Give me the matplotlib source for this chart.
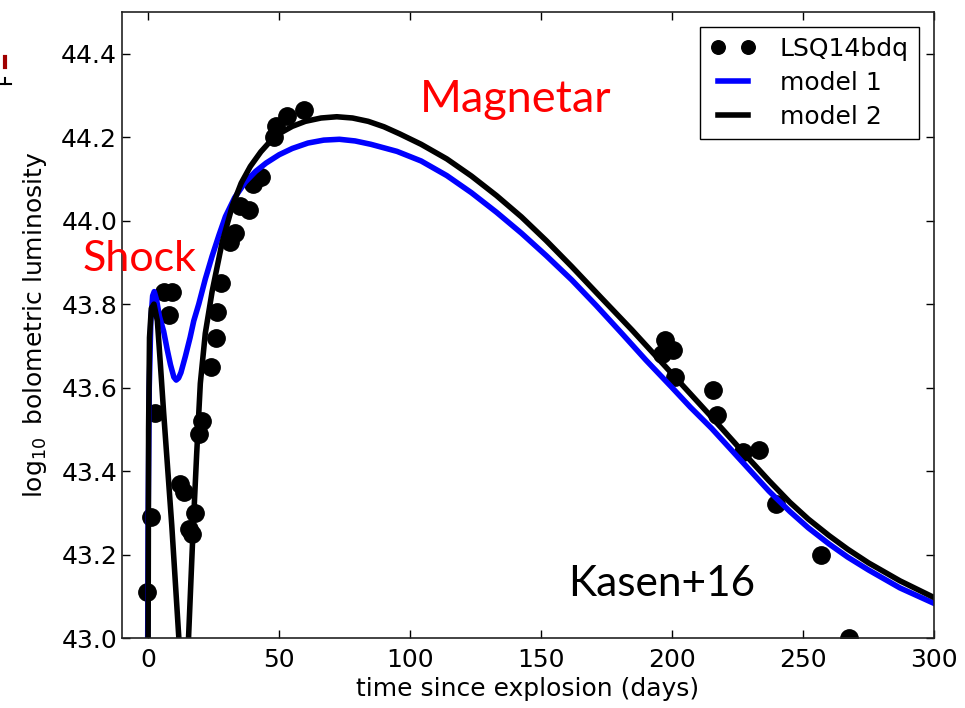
import numpy as np
import matplotlib
matplotlib.use("Agg")
import matplotlib.pyplot as plt
from matplotlib.lines import Line2D

# observed bolometric light curve of LSQ14bdq (days, log10 L)
t_obs = [-0.5, 1.0, 2.7, 5.9, 9.1, 7.8, 12.3, 13.5, 15.4, 16.9, 18.0, 19.3,
         20.6, 23.8, 25.7, 26.3, 27.8, 31.4, 33.3, 35.2, 38.4, 40.2, 42.9,
         48.0, 48.7, 53.1, 59.5, 196.0, 197.3, 200.5, 201.0, 215.5, 217.0,
         227.0, 233.0, 239.7, 257.0, 267.6]
L_obs = [43.11, 43.29, 43.54, 43.83, 43.83, 43.775, 43.37, 43.35, 43.26,
         43.25, 43.30, 43.49, 43.52, 43.65, 43.72, 43.78, 43.85, 43.95, 43.97,
         44.035, 44.025, 44.087, 44.104, 44.20, 44.227, 44.25, 44.265, 43.68,
         43.715, 43.69, 43.625, 43.595, 43.535, 43.446, 43.45, 43.32, 43.20,
         43.0]

# model 1
t_m1 = [-0.3, 0.0, 0.4, 1.0, 1.7, 2.3, 3.2, 4.3, 5.9, 7.3, 8.5, 9.8, 10.7,
        11.6, 12.5, 14.2, 16.0, 17.4, 19.3, 21.8, 24.4, 27.0, 29.5, 33.0,
        37.0, 41.0, 45.0, 50.0, 55.0, 61.0, 67.0, 73.0, 79.0, 85.0, 95.0,
        104.2, 114.0, 123.4, 133.0, 142.5, 152.0, 161.7, 171.0, 180.8, 190.0,
        200.0, 207.0, 215.0, 222.0, 230.0, 237.0, 245.0, 252.0, 260.0, 267.0,
        275.0, 287.0, 300.0]
L_m1 = [42.8, 43.3, 43.6, 43.76, 43.82, 43.83, 43.81, 43.77, 43.735, 43.69,
        43.655, 43.625, 43.618, 43.623, 43.636, 43.675, 43.72, 43.76, 43.80,
        43.86, 43.915, 43.965, 44.01, 44.055, 44.092, 44.118, 44.138, 44.158,
        44.173, 44.186, 44.193, 44.195, 44.191, 44.183, 44.166, 44.143, 44.108,
        44.067, 44.02, 43.970, 43.916, 43.858, 43.797, 43.730, 43.666, 43.60,
        43.553, 43.503, 43.455, 43.400, 43.352, 43.303, 43.264, 43.225,
        43.194, 43.163, 43.12, 43.083]

# model 2
t_m2 = [-0.2, 0.15, 0.5, 1.2, 2.2, 3.5, 4.5, 5.9, 9.0, 11.7, 13.5, 15.4,
        17.0, 18.5, 19.9, 21.8, 24.4, 28.2, 32.1, 35.5, 39.0, 43.0, 47.0,
        51.0, 55.0, 60.0, 66.0, 72.0, 78.0, 84.0, 90.0, 96.0, 104.2, 114.0,
        123.4, 133.0, 142.5, 152.0, 161.7, 173.0, 184.7, 192.0, 200.0, 207.0,
        215.0, 222.0, 230.0, 237.0, 245.0, 252.0, 260.0, 267.0, 275.0, 287.0,
        300.0]
L_m2 = [42.5, 43.5, 43.72, 43.79, 43.80, 43.76, 43.67, 43.54, 43.27, 43.0,
        42.75, 43.0, 43.24, 43.44, 43.61, 43.73, 43.83, 43.947, 44.035,
        44.09, 44.13, 44.165, 44.193, 44.212, 44.226, 44.238, 44.246, 44.249,
        44.246, 44.238, 44.225, 44.208, 44.183, 44.148, 44.107, 44.06, 44.009,
        43.952, 43.89, 43.815, 43.738, 43.688, 43.633, 43.585, 43.530, 43.481,
        43.425, 43.377, 43.325, 43.285, 43.245, 43.213, 43.18, 43.137, 43.097]

xticks = [0, 50, 100, 150, 200, 250, 300]
yticks = [43.0, 43.2, 43.4, 43.6, 43.8, 44.0, 44.2, 44.4]

W, H = 965, 708
fig = plt.figure(figsize=(W / 100, H / 100), dpi=100)
ax = fig.add_axes([122 / W, 70 / H, 812 / W, 626 / H])

ax.plot(t_obs, L_obs, 'o', color='black', markersize=12.5, label='LSQ14bdq')
ax.plot(t_m1, L_m1, '-', color='blue', lw=4, label='model 1')
ax.plot(t_m2, L_m2, '-', color='black', lw=4, label='model 2')

ax.set_xlim(-10, 300)
ax.set_ylim(43.0, 44.5)
ax.set_xticks(xticks)
ax.set_yticks(yticks)
ax.set_yticklabels(['%.1f' % v for v in yticks])
ax.tick_params(direction='in', length=6, width=1, top=True, right=True,
               labelsize=18)
ax.tick_params(axis='x', pad=7)
for s in ax.spines.values():
    s.set_linewidth(1.2)
    s.set_color('#222222')

ax.set_xlabel('time since explosion (days)', fontsize=18, labelpad=4)
ax.set_ylabel(r'$\log_{10}$ bolometric luminosity', fontsize=18, labelpad=9)

leg = ax.legend(loc='upper right', numpoints=2, fancybox=False,
                edgecolor='black', framealpha=1, fontsize=18,
                borderaxespad=0.6, handlelength=1.8, handletextpad=1.0,
                labelspacing=0.4, markerscale=0.78)
leg.get_frame().set_linewidth(1.0)

# slide annotations
fig.text(420 / W, 1 - 112 / H, 'Magnetar', color='red', fontsize=32.5,
         family='Lato', ha='left', va='baseline')
fig.text(83 / W, 1 - 271 / H, 'Shock', color='red', fontsize=31,
         family='Lato', ha='left', va='baseline')
fig.text(568 / W, 1 - 596 / H, 'Kasen+16', color='black', fontsize=30.5,
         family='Lato', ha='left', va='baseline')

# leftover marks at the page edge
fig.add_artist(Line2D([5.3 / W, 5.3 / W], [1 - 57 / H, 1 - 67 / H],
                      color='#a00000', lw=3))
fig.add_artist(Line2D([0, 11 / W], [1 - 84 / H, 1 - 84 / H],
                      color='black', lw=1.5))
fig.add_artist(Line2D([5.3 / W, 5.3 / W], [1 - 78 / H, 1 - 84 / H],
                      color='black', lw=1.5))

fig.savefig('out.png', dpi=100)
